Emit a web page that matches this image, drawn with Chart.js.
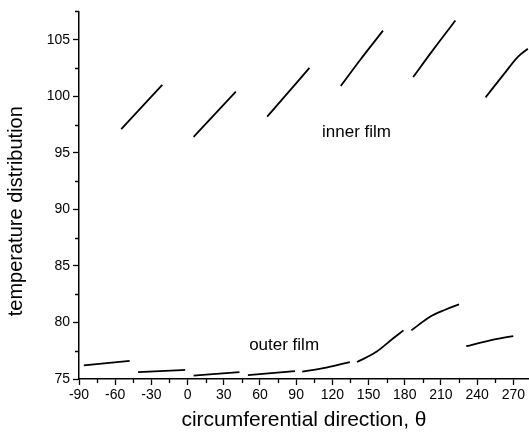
<!DOCTYPE html>
<html>
<head>
<meta charset="utf-8">
<script src="https://cdn.jsdelivr.net/npm/chart.js@4/dist/chart.umd.min.js"></script>
<style>
  html, body { margin: 0; padding: 0; background: #fff; }
  #wrap { width: 529px; height: 435px; }
</style>
</head>
<body>
<div id="wrap"><canvas id="tempChart"></canvas></div>
<script>
// values, null = break between pieces
const innerTheta = [-55, -21, null, 5, 40, null, 66, 101, null, 127, 143, 162, null, 187, 203.5, 222, null, 247, 264, 273, 282];
const innerTemp  = [97.1, 101.0, null, 96.4, 100.4, null, 98.2, 102.5, null, 100.9, 103.2, 105.8, null, 101.7, 104.1, 106.7, null, 99.9, 102.2, 103.4, 104.2];

const outerTheta = [-86, -48, null, -41, -2, null, 5, 43, null, 50, 89, null, 95, 115, 134.5, null, 140.5, 156.5, 170.5, 179, null, 185.5, 201, 213, 225, null, 231, 250, 270];
const outerTemp  = [76.2, 76.6, null, 75.6, 75.8, null, 75.3, 75.6, null, 75.35, 75.7, null, 75.65, 76.0, 76.5, null, 76.5, 77.4, 78.6, 79.3, null, 79.3, 80.5, 81.1, 81.6, null, 77.9, 78.4, 78.8];

const xTicksMinor = [-75, -45, -15, 15, 45, 75, 105, 135, 165, 195, 225, 255];
const yTicksMinor = [77.5, 82.5, 87.5, 92.5, 97.5, 102.5, 107.5];

const filmLabels = [
  { text: 'inner film', theta: 140, temp: 96.8 },
  { text: 'outer film', theta: 80, temp: 78.0 }
];

const FONT = '"Liberation Sans", Arial, sans-serif';

function toPoints(xs, ys) {
  return xs.map((x, i) => ({ x: x === null ? NaN : x, y: ys[i] }));
}

// minor ticks, y title and the two labels inside the plot
const extras = {
  id: 'extras',
  afterDraw(chart) {
    const { ctx, scales: { x, y }, chartArea } = chart;
    ctx.save();
    ctx.strokeStyle = '#000';
    ctx.lineWidth = 1.3;
    ctx.beginPath();
    xTicksMinor.forEach(v => {
      const px = Math.round(x.getPixelForValue(v)) + 0.5;
      ctx.moveTo(px, x.top);
      ctx.lineTo(px, x.top + 4);
    });
    yTicksMinor.forEach(v => {
      const py = Math.round(y.getPixelForValue(v)) + 0.5;
      ctx.moveTo(y.right, py);
      ctx.lineTo(y.right - 4, py);
    });
    ctx.stroke();

    ctx.fillStyle = '#000';
    ctx.font = '17px ' + FONT;
    ctx.textAlign = 'center';
    ctx.textBaseline = 'middle';
    filmLabels.forEach(l => {
      ctx.fillText(l.text, x.getPixelForValue(l.theta), y.getPixelForValue(l.temp));
    });

    ctx.font = '20px ' + FONT;
    ctx.translate(16, (chartArea.top + chartArea.bottom) / 2 + 16);
    ctx.rotate(-Math.PI / 2);
    ctx.fillText('temperature distribution', 0, 0);
    ctx.restore();
  }
};

const ctx = document.getElementById('tempChart').getContext('2d');
new Chart(ctx, {
  type: 'line',
  data: {
    datasets: [
      { label: 'inner film', data: toPoints(innerTheta, innerTemp) },
      { label: 'outer film', data: toPoints(outerTheta, outerTemp) }
    ]
  },
  options: {
    responsive: true,
    maintainAspectRatio: false,
    animation: false,
    parsing: false,
    spanGaps: false,
    layout: { padding: { top: 9.5, right: 0, left: 0, bottom: 0 } },
    elements: {
      point: { radius: 0 },
      line: { borderColor: '#000', borderWidth: 1.8, cubicInterpolationMode: 'monotone', fill: false }
    },
    plugins: {
      legend: { display: false },
      tooltip: { enabled: false }
    },
    scales: {
      x: {
        type: 'linear',
        min: -90,
        max: 283,
        afterFit: s => { s.height = 56; },
        border: { color: '#000', width: 1.5 },
        grid: { drawOnChartArea: false, tickLength: 6, tickColor: '#000', tickWidth: 1.3 },
        ticks: {
          stepSize: 30,
          includeBounds: false,
          maxRotation: 0,
          autoSkip: false,
          padding: 2,
          color: '#000',
          font: { family: FONT, size: 14 }
        },
        title: {
          display: true,
          text: 'circumferential direction, θ',
          color: '#000',
          font: { family: FONT, size: 21 },
          padding: { top: 0, bottom: 2 }
        }
      },
      y: {
        min: 75,
        max: 107.5,
        afterFit: s => { s.width = 79; },
        border: { color: '#000', width: 1.5 },
        grid: { drawOnChartArea: false, tickLength: 6, tickColor: '#000', tickWidth: 1.3 },
        ticks: {
          stepSize: 5,
          includeBounds: false,
          padding: 3,
          color: '#000',
          font: { family: FONT, size: 14 }
        }
      }
    }
  },
  plugins: [extras]
});
</script>
</body>
</html>
